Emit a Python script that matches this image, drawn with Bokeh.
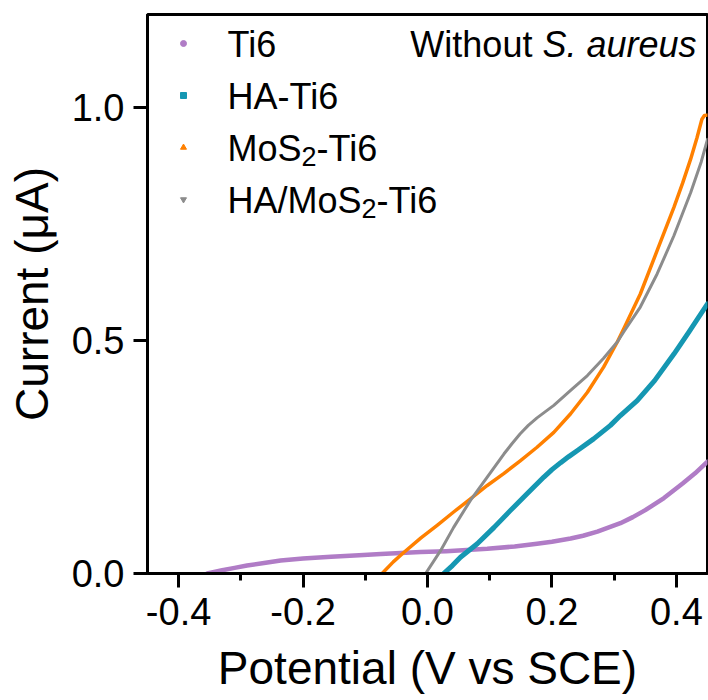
from bokeh.plotting import figure
from bokeh.models import Range1d, FixedTicker, PrintfTickFormatter, Label
from bokeh.embed import file_html
from bokeh.resources import INLINE

# ---------------- data ----------------
ti6_x = [-0.354, -0.33, -0.31, -0.29, -0.26, -0.236, -0.20, -0.155, -0.11, -0.075, -0.011,
         0.03, 0.096, 0.14, 0.176, 0.20, 0.23, 0.25, 0.273, 0.31, 0.33, 0.35, 0.38, 0.41,
         0.43, 0.45]
ti6_y = [0.000, 0.007, 0.012, 0.017, 0.023, 0.028, 0.032, 0.036, 0.039, 0.042, 0.046,
         0.048, 0.053, 0.058, 0.064, 0.068, 0.075, 0.081, 0.090, 0.108, 0.121, 0.136, 0.162,
         0.193, 0.215, 0.240]

ha_x = [0.026, 0.04, 0.053, 0.08, 0.107, 0.133, 0.16, 0.187, 0.20, 0.214, 0.227, 0.241,
        0.267, 0.294, 0.31, 0.337, 0.365, 0.396, 0.42, 0.45]
ha_y = [0.000, 0.017, 0.035, 0.064, 0.099, 0.135, 0.171, 0.207, 0.223, 0.238, 0.251, 0.264,
        0.289, 0.318, 0.339, 0.371, 0.414, 0.471, 0.518, 0.579]

mos_x = [-0.073, -0.055, -0.04, -0.011, 0.016, 0.042, 0.069, 0.096, 0.123, 0.149, 0.176,
         0.203, 0.23, 0.257, 0.283, 0.305, 0.316, 0.342, 0.369, 0.396, 0.41, 0.423, 0.433,
         0.441, 0.445, 0.45]
mos_y = [0.000, 0.025, 0.043, 0.076, 0.104, 0.132, 0.160, 0.189, 0.215, 0.242, 0.271,
         0.303, 0.343, 0.389, 0.443, 0.497, 0.527, 0.600, 0.693, 0.786, 0.838, 0.890, 0.935,
         0.975, 0.983, 0.984]

hamos_x = [-0.003, 0.021, 0.042, 0.069, 0.096, 0.123, 0.136, 0.149, 0.162, 0.176, 0.19,
           0.203, 0.23, 0.257, 0.283, 0.305, 0.316, 0.342, 0.369, 0.396, 0.423, 0.44, 0.45]
hamos_y = [0.000, 0.049, 0.099, 0.157, 0.207, 0.257, 0.279, 0.300, 0.318, 0.334, 0.348,
           0.361, 0.393, 0.425, 0.462, 0.497, 0.520, 0.572, 0.643, 0.725, 0.818, 0.884, 0.932]

x_major = [-0.4, -0.2, 0.0, 0.2, 0.4]
x_minor = [-0.3, -0.1, 0.1, 0.3]
y_major = [0.0, 0.5, 1.0]

series_names = ["Ti6", "HA-Ti6", "MoS2-Ti6", "HA/MoS2-Ti6"]
colors = ["#B07CC6", "#1597B2", "#FF8000", "#8C8C8C"]
widths = [4.5, 5, 3.5, 3]
markers = ["circle", "square", "triangle", "inverted_triangle"]

FONT = "Liberation Sans"
X0, X1, Y0, Y1 = -0.45, 0.45, 0.0, 1.2
W, H = 708, 700
BL, BR, BT, BB = 147, 1, 14, 127
FW, FH = W - BL - BR, H - BT - BB   # 560 x 559

p = figure(width=W, height=H,
           x_range=Range1d(X0, X1), y_range=Range1d(Y0, Y1),
           output_backend="svg", toolbar_location=None,
           min_border_left=BL, min_border_right=BR, min_border_top=BT, min_border_bottom=BB)

p.xgrid.visible = False
p.ygrid.visible = False
p.outline_line_color = "black"
p.outline_line_width = 3
p.outline_line_alpha = 1
p.background_fill_color = "white"
p.border_fill_color = "white"

for ax in (p.xaxis[0], p.yaxis[0]):
    ax.axis_line_width = 3
    ax.axis_line_color = "black"
    ax.major_tick_line_width = 3
    ax.major_tick_line_color = "black"
    ax.minor_tick_line_width = 3
    ax.minor_tick_line_color = "black"
    ax.major_tick_in = 0
    ax.major_tick_out = 14
    ax.minor_tick_in = 0
    ax.minor_tick_out = 7
    ax.major_label_text_font = FONT
    ax.major_label_text_font_size = "38px"
    ax.major_label_text_color = "black"
    ax.axis_label_text_font = FONT
    ax.axis_label_text_font_size = "46px"
    ax.axis_label_text_font_style = "normal"
    ax.axis_label_text_color = "black"
    ax.formatter = PrintfTickFormatter(format="%.1f")

p.xaxis[0].ticker = FixedTicker(ticks=x_major, minor_ticks=x_minor)
p.yaxis[0].ticker = FixedTicker(ticks=y_major, minor_ticks=[])
p.xaxis[0].axis_label = "Potential (V vs SCE)"
p.yaxis[0].axis_label = "Current (μA)"
p.xaxis[0].major_label_standoff = 10
p.yaxis[0].major_label_standoff = 9
p.xaxis[0].axis_label_standoff = 14
p.yaxis[0].axis_label_standoff = 11

series = [(ti6_x, ti6_y), (ha_x, ha_y), (mos_x, mos_y), (hamos_x, hamos_y)]
for (xs, ys), c, w in zip(series, colors, widths):
    p.line(xs, ys, line_color=c, line_width=w, line_join="round", line_cap="round")

# ---------------- legend (manual) ----------------
dxpp = (X1 - X0) / FW
dypp = (Y1 - Y0) / FH
LEG_FS = 36
SUB_FS = 27
text_dx = 80
marker_dx = 36
row_top = 29
row_gap = 52
base_shift = 12 - 0.716 * LEG_FS / 2   # empirical correction

def lab(text, dx, dy_baseline, size=LEG_FS, style="normal", align="left"):
    p.add_layout(Label(x=X0, y=Y1, x_units="data", y_units="data",
                       x_offset=dx, y_offset=-dy_baseline, text=text,
                       text_font=FONT, text_font_size=f"{size}px",
                       text_font_style=style, text_color="black",
                       text_align=align, text_baseline="alphabetic"))

adv = {"M": .833, "o": .556, "S": .667, "H": .722, "A": .667, "/": .278, "2": .556}

def wid(s, fs):
    return sum(adv[ch] for ch in s) * fs

for i, (name, c, m) in enumerate(zip(series_names, colors, markers)):
    cy = row_top + i * row_gap
    base = cy - base_shift
    p.scatter([X0 + marker_dx * dxpp], [Y1 - cy * dypp], marker=m, size=6,
              fill_color=c, line_color=c)
    if "MoS2" in name:
        pre, post = name.split("2")
        lab(pre, text_dx, base)
        x2 = text_dx + wid(pre, LEG_FS)
        lab("2", x2, base + 8, size=SUB_FS)
        lab(post, x2 + wid("2", SUB_FS), base)
    else:
        lab(name, text_dx, base)

# annotation top-right
ann_base = row_top - base_shift
it_w = (0.667 + 0.278 + 0.278 + 0.556 + 0.556 + 0.333 + 0.556 + 0.556 + 0.5) * LEG_FS
right_dx = FW - 11
lab("S. aureus", right_dx, ann_base, style="italic", align="right")
lab("Without", right_dx - it_w - 0.278 * LEG_FS, ann_base, align="right")

open("out.html", "w").write(file_html(p, INLINE))
